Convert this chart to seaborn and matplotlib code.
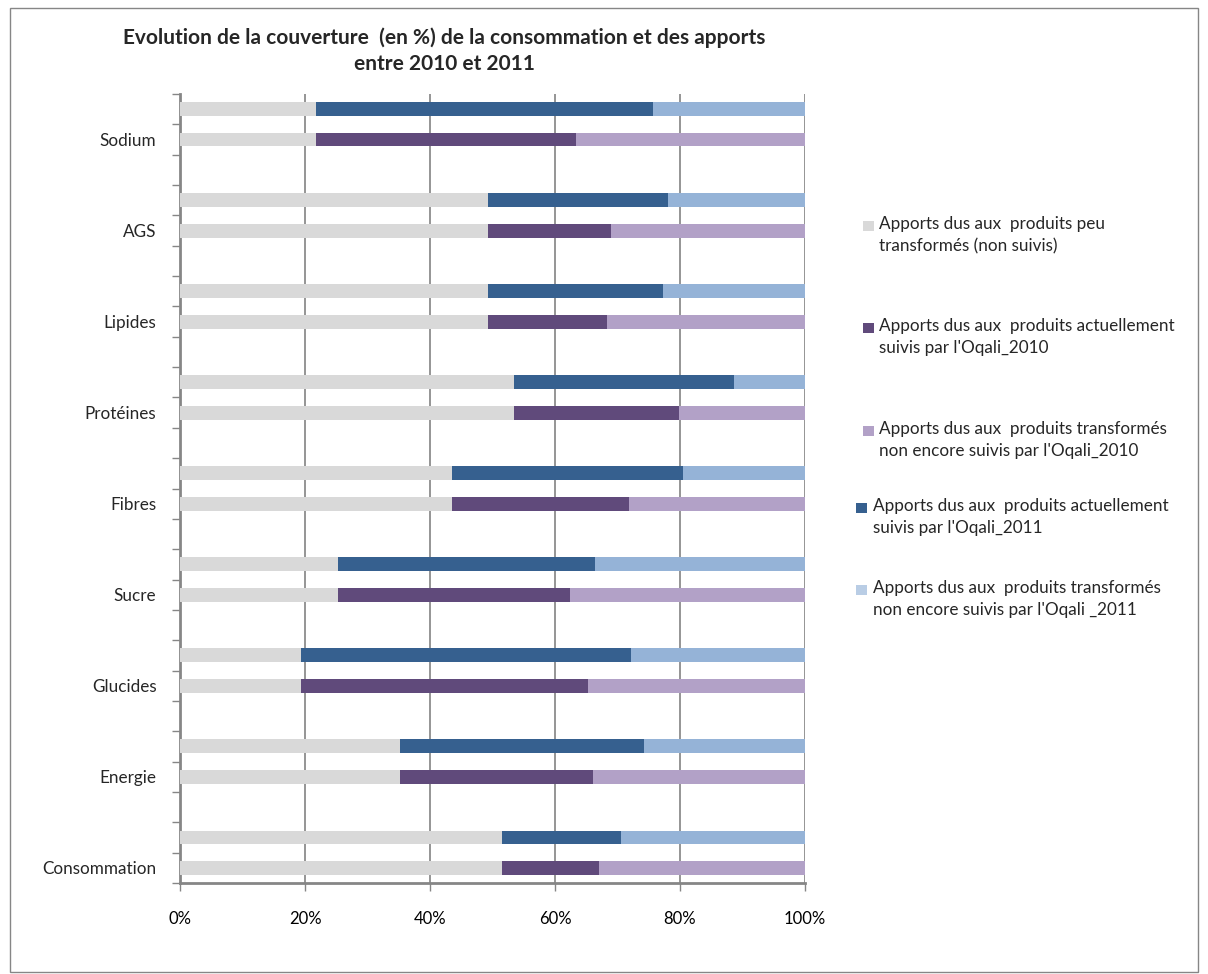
import matplotlib
matplotlib.use("Agg")
import matplotlib.pyplot as plt
import seaborn as sns
import pandas as pd
from matplotlib.patches import Rectangle

# ---- data (top to bottom) ----
categories = ["Sodium", "AGS", "Lipides", "Protéines", "Fibres", "Sucre",
              "Glucides", "Energie", "Consommation"]
peu_transformes = [21.7, 49.3, 49.3, 53.5, 43.6, 25.3, 19.4, 35.2, 51.6]
suivis_2010 = [41.7, 19.7, 19.0, 26.3, 28.3, 37.1, 45.9, 30.8, 15.5]
non_suivis_2010 = [36.6, 31.0, 31.7, 20.2, 28.1, 37.6, 34.7, 34.0, 32.9]
suivis_2011 = [54.0, 28.8, 28.0, 35.1, 36.9, 41.1, 52.8, 39.1, 19.0]
non_suivis_2011 = [24.3, 21.9, 22.7, 11.4, 19.5, 33.6, 27.8, 25.7, 29.4]
years = ["2011", "2010"]
x_ticklabels = ["0%", "20%", "40%", "60%", "80%", "100%"]
legend_labels = [
    "Apports dus aux  produits peu\ntransformés (non suivis)",
    "Apports dus aux  produits actuellement\nsuivis par l'Oqali_2010",
    "Apports dus aux  produits transformés\nnon encore suivis par l'Oqali_2010",
    "Apports dus aux  produits actuellement\nsuivis par l'Oqali_2011",
    "Apports dus aux  produits transformés\nnon encore suivis par l'Oqali _2011",
]
title = "Evolution de la couverture  (en %) de la consommation et des apports\nentre 2010 et 2011"

# colours
c_gray = "#D9D9D9"
c_p10, c_lp10 = "#604A7B", "#B2A1C7"
c_b11, c_lb11 = "#36608F", "#95B3D7"

# ---- build table ----
rows = []
order = []
for i, cat in enumerate(categories):
    for yr in years:
        key = f"{cat}_{yr}"
        order.append(key)
        if yr == "2010":
            s, n = suivis_2010[i], non_suivis_2010[i]
        else:
            s, n = suivis_2011[i], non_suivis_2011[i]
        tot = peu_transformes[i] + s + n
        p = peu_transformes[i] / tot * 100
        s = s / tot * 100
        rows.append(dict(row=key, cat=cat, year=yr, c1=p, c2=p + s, c3=100.0))
    if i < len(categories) - 1:
        order.append(f"gap{i}")
df = pd.DataFrame(rows)

sns.set_style("white")
plt.rcParams["font.family"] = ["Lato", "DejaVu Sans"]

fig = plt.figure(figsize=(12.08, 9.74), dpi=100)
ax = fig.add_axes([180 / 1208, 1 - 883 / 974, 625 / 1208, (883 - 94) / 974])

bw = 0.46
sns.barplot(data=df, x="c3", y="row", hue="year", order=order, orient="h",
            palette={"2010": c_lp10, "2011": c_lb11}, hue_order=years,
            dodge=False, width=bw, linewidth=0, legend=False, saturation=1,
            ax=ax, zorder=3)
sns.barplot(data=df, x="c2", y="row", hue="year", order=order, orient="h",
            palette={"2010": c_p10, "2011": c_b11}, hue_order=years,
            dodge=False, width=bw, linewidth=0, legend=False, saturation=1,
            ax=ax, zorder=3)
sns.barplot(data=df, x="c1", y="row", order=order, orient="h",
            color=c_gray, width=bw, linewidth=0, saturation=1, ax=ax, zorder=3)

n = len(order)
ax.set_xlim(0, 100)
ax.set_ylim(n - 0.5, -0.5)
ax.set_xlabel("")
ax.set_ylabel("")

# x axis
ax.set_xticks([0, 20, 40, 60, 80, 100])
ax.set_xticklabels(x_ticklabels, fontsize=12)
ax.tick_params(axis="x", bottom=True, direction="out", length=6, width=1,
               color="#868686", pad=14, labelcolor="black")
ax.xaxis.grid(True, color="#8C8C8C", linewidth=1.3, zorder=1)
ax.set_axisbelow(True)

# y axis: ticks at boundaries, labels on 2010 rows
ax.set_yticks([k - 0.5 for k in range(n + 1)])
ax.set_yticklabels([])
label_pos = [order.index(f"{c}_2010") for c in categories]
ax.set_yticks(label_pos, minor=True)
ax.set_yticklabels(categories, minor=True, fontsize=12.3)
ax.tick_params(axis="y", which="major", left=True, direction="out", length=6,
               width=1, color="#868686")
ax.tick_params(axis="y", which="minor", left=True, length=0, pad=17)

for s in ["top", "right"]:
    ax.spines[s].set_visible(False)
for s in ["left", "bottom"]:
    ax.spines[s].set_color("#868686")
    ax.spines[s].set_linewidth(2)

# title
fig.text(444 / 1208, 1 - 51 / 974, title, ha="center", va="center",
         fontsize=15, fontweight="bold", linespacing=1.35)

# legend (manual placement to match reference spacing)
leg_colors = [c_gray, c_p10, c_lp10, c_b11, "#B9CDE5"]
leg_y = [226, 328, 431, 508, 590]
leg_px = [863, 863, 863, 856, 856]
leg_tx = [879, 879, 879, 873, 873]
for col, y, px, tx, lab in zip(leg_colors, leg_y, leg_px, leg_tx, legend_labels):
    fig.patches.append(Rectangle((px / 1208, 1 - (y + 5) / 974), 11 / 1208, 10 / 974,
                                 transform=fig.transFigure, facecolor=col,
                                 edgecolor="none"))
    fig.text(tx / 1208, 1 - (y - 10) / 974, lab, ha="left", va="top",
             fontsize=12.3, linespacing=1.45)

# outer border
fig.patches.append(Rectangle((10 / 1208, 2 / 974), 1188 / 1208, 964 / 974,
                             transform=fig.transFigure, facecolor="none",
                             edgecolor="#868686", linewidth=1))

fig.savefig("out.png", dpi=100)
